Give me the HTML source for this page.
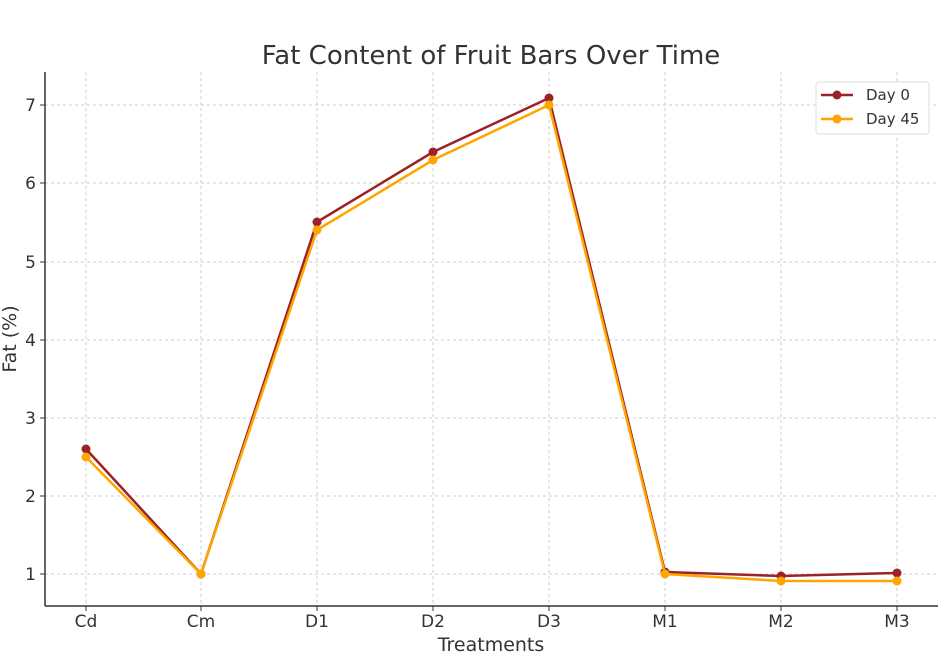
<!DOCTYPE html>
<html><head><meta charset="utf-8"><style>body{margin:0;background:#fff}svg{display:block}</style></head><body>
<svg width="941" height="653" viewBox="0 0 941 653" xmlns="http://www.w3.org/2000/svg" font-family="'DejaVu Sans','Liberation Sans',sans-serif">
<text x="491" y="64" font-size="26" text-anchor="middle" fill="#333">Fat Content of Fruit Bars Over Time</text>
<g stroke="#ccc" stroke-dasharray="3,3" stroke-width="1">
<line x1="86" y1="72" x2="86" y2="606"/><line x1="201" y1="72" x2="201" y2="606"/><line x1="317" y1="72" x2="317" y2="606"/><line x1="433" y1="72" x2="433" y2="606"/><line x1="549" y1="72" x2="549" y2="606"/><line x1="665" y1="72" x2="665" y2="606"/><line x1="781" y1="72" x2="781" y2="606"/><line x1="897" y1="72" x2="897" y2="606"/>
<line x1="45" y1="574" x2="938" y2="574"/><line x1="45" y1="496" x2="938" y2="496"/><line x1="45" y1="418" x2="938" y2="418"/><line x1="45" y1="340" x2="938" y2="340"/><line x1="45" y1="262" x2="938" y2="262"/><line x1="45" y1="183" x2="938" y2="183"/><line x1="45" y1="105" x2="938" y2="105"/>
</g>
<g stroke="#333" stroke-width="1.5"><line x1="45" y1="72" x2="45" y2="606"/><line x1="45" y1="606" x2="938" y2="606"/></g>
<g stroke="#333"><line x1="40" y1="574" x2="45" y2="574"/><line x1="40" y1="496" x2="45" y2="496"/><line x1="40" y1="418" x2="45" y2="418"/><line x1="40" y1="340" x2="45" y2="340"/><line x1="40" y1="262" x2="45" y2="262"/><line x1="40" y1="183" x2="45" y2="183"/><line x1="40" y1="105" x2="45" y2="105"/>
<line x1="86" y1="606" x2="86" y2="611"/><line x1="201" y1="606" x2="201" y2="611"/><line x1="317" y1="606" x2="317" y2="611"/><line x1="433" y1="606" x2="433" y2="611"/><line x1="549" y1="606" x2="549" y2="611"/><line x1="665" y1="606" x2="665" y2="611"/><line x1="781" y1="606" x2="781" y2="611"/><line x1="897" y1="606" x2="897" y2="611"/></g>
<g font-size="17" fill="#333" text-anchor="end"><text x="36" y="580">1</text><text x="36" y="502">2</text><text x="36" y="424">3</text><text x="36" y="346">4</text><text x="36" y="268">5</text><text x="36" y="189">6</text><text x="36" y="111">7</text></g>
<g font-size="17" fill="#333" text-anchor="middle"><text x="86" y="627">Cd</text><text x="201" y="627">Cm</text><text x="317" y="627">D1</text><text x="433" y="627">D2</text><text x="549" y="627">D3</text><text x="665" y="627">M1</text><text x="781" y="627">M2</text><text x="897" y="627">M3</text></g>
<text x="491" y="651" font-size="19" fill="#333" text-anchor="middle">Treatments</text>
<text transform="translate(16,339) rotate(-90)" font-size="19" fill="#333" text-anchor="middle">Fat (%)</text>
<polyline fill="none" stroke="#9b2226" stroke-width="2.5" points="86,449 201,574 317,222 433,152 549,98 665,572 781,576 897,573"/>
<g fill="#9b2226"><circle cx="86" cy="449" r="4.5"/><circle cx="201" cy="574" r="4.5"/><circle cx="317" cy="222" r="4.5"/><circle cx="433" cy="152" r="4.5"/><circle cx="549" cy="98" r="4.5"/><circle cx="665" cy="572" r="4.5"/><circle cx="781" cy="576" r="4.5"/><circle cx="897" cy="573" r="4.5"/></g>
<polyline fill="none" stroke="#ffa500" stroke-width="2.5" points="86,457 201,574 317,230 433,160 549,105 665,574 781,581 897,581"/>
<g fill="#ffa500"><circle cx="86" cy="457" r="4.5"/><circle cx="201" cy="574" r="4.5"/><circle cx="317" cy="230" r="4.5"/><circle cx="433" cy="160" r="4.5"/><circle cx="549" cy="105" r="4.5"/><circle cx="665" cy="574" r="4.5"/><circle cx="781" cy="581" r="4.5"/><circle cx="897" cy="581" r="4.5"/></g>
<rect x="816" y="82" width="113" height="52" rx="3" fill="#fff" stroke="#ddd"/>
<line x1="821" y1="95" x2="853" y2="95" stroke="#9b2226" stroke-width="2.5"/><circle cx="837" cy="95" r="4.5" fill="#9b2226"/>
<line x1="821" y1="119" x2="853" y2="119" stroke="#ffa500" stroke-width="2.5"/><circle cx="837" cy="119" r="4.5" fill="#ffa500"/>
<g font-size="15" fill="#333"><text x="866" y="100">Day 0</text><text x="866" y="124">Day 45</text></g>
</svg>
</body></html>
